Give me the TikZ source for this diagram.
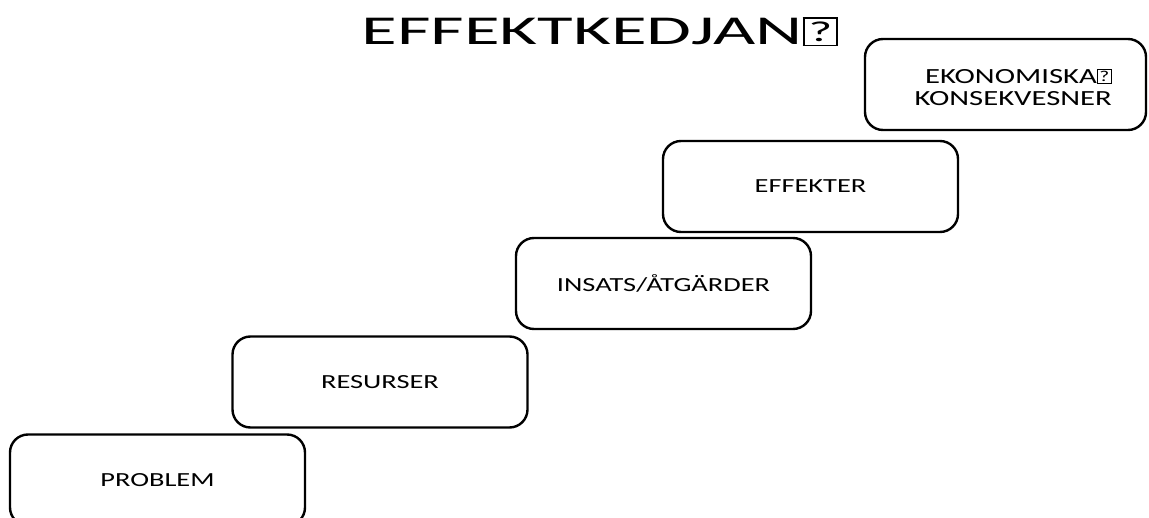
\documentclass[tikz,border=0pt]{standalone}
\usepackage{fontspec}
\setmainfont{Carlito}
\usepackage{graphicx}
\usetikzlibrary{positioning}
\newcommand{\Wide}[1]{\scalebox{1.42}[1]{#1}}
\newcommand{\Tofu}{{\setlength{\fboxsep}{0pt}\setlength{\fboxrule}{0.035em}\fbox{\makebox[0.42em]{\rule{0pt}{0.64em}\raisebox{0.08em}{\scalebox{0.7}{?}}}}}}
\tikzset{
  x=0.5pt, y=-0.5pt,
  every picture/.style={line width=1.2pt},
  stepbox/.style={draw, rounded corners=9pt, minimum width=147.5pt, minimum height=45.5pt,
    inner sep=0pt, align=center, font=\fontsize{10}{12}\selectfont},
  headline/.style={inner sep=0pt, font=\fontsize{20.5}{24}\selectfont}
}

\begin{document}
\begin{tikzpicture}
    \useasboundingbox (0,0) rectangle (1149,518);
    \clip (0,0) rectangle (1149,518);

    \node [headline, anchor=base] (title) at (600,45) {\scalebox{1.78}[1]{EFFEKTKEDJAN\Tofu}};

    \node [stepbox] (problem) at (157.5,480) {\Wide{PROBLEM}};
    \node [stepbox] (resurser) at (380,382) {\Wide{RESURSER}};
    \node [stepbox] (insats) at (663.5,283.5) {\Wide{INSATS/ÅTGÄRDER}};
    \node [stepbox] (effekter) at (810.5,186.5) {\Wide{EFFEKTER}};
    \node [stepbox, minimum width=140.5pt] (ekonomi) at (1005.5,84.5) {};

    \node [font=\fontsize{10.8}{10.5}\selectfont, align=right, inner sep=0pt, anchor=east] (ekotext) at (1113,87)
      {\Wide{EKONOMISKA\Tofu}\\[0.5pt]\Wide{KONSEKVESNER}};
  \end{tikzpicture}
\end{document}
